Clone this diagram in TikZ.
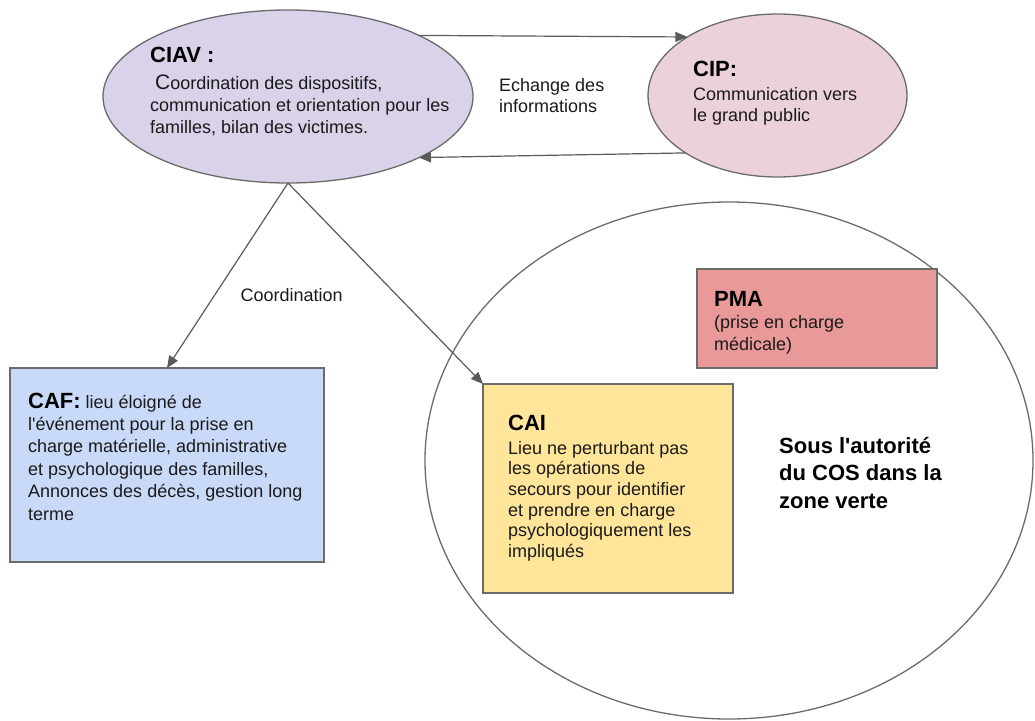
\documentclass[tikz,border=0pt]{standalone}
\usepackage{fontspec}
\setmainfont{Liberation Sans}[Ligatures=TeXOff]
\usetikzlibrary{arrows.meta,shapes.geometric}

\definecolor{lineg}{HTML}{6B6B6B}
\definecolor{arrowg}{HTML}{5A5A5A}
\definecolor{ciavfill}{HTML}{D9D2E9}
\definecolor{cipfill}{HTML}{EAD1DC}
\definecolor{caffill}{HTML}{C9DAF8}
\definecolor{caifill}{HTML}{FFE599}
\definecolor{pmafill}{HTML}{EA9999}
\definecolor{ink}{HTML}{1A1A1A}

% stacked lines whose baseline is the first line
\newcommand\textrows[1]{\begin{tabular}[t]{@{}l@{}}#1\end{tabular}}

\begin{document}
\begin{tikzpicture}[x=1pt,y=-1pt,
  outline/.style={draw=lineg, line width=1.3pt},
  oval/.style={outline, ellipse, inner sep=0pt, outer sep=0pt},
  panel/.style={outline, rectangle, inner sep=0pt, outer sep=0pt, anchor=north west},
  body/.style={inner sep=0pt, anchor=base west, text=ink, font=\fontsize{18}{22.3}\selectfont},
  head/.style={inner sep=0pt, anchor=base west, text=black, font=\fontsize{22}{26}\selectfont\bfseries},
  link/.style={draw=arrowg, line width=1.2pt, -{Triangle[length=12pt,width=10pt]}}]

\useasboundingbox (0,0) rectangle (1035,720);

% green zone
\node[oval, minimum width=608, minimum height=517] (zone) at (729,460.5) {};

% shapes
\node[oval, fill=ciavfill, minimum width=370, minimum height=173] (ciav) at (288,96.5) {};
\node[oval, fill=cipfill, minimum width=259, minimum height=163] (cip) at (777.5,95.5) {};
\node[panel, fill=caffill, minimum width=314, minimum height=194] (caf) at (10,368) {};
\node[panel, fill=caifill, minimum width=250, minimum height=209] (cai) at (483,384) {};
\node[panel, fill=pmafill, minimum width=240, minimum height=99] (pma) at (697,269) {};

% CIAV text
\node[head] (ciavT) at (150,62) {CIAV :};
\node[body] (ciavB) at (150,89) {\textrows{%
  \hspace{5pt}{\fontsize{21}{22}\selectfont C}oordination des dispositifs,\\
  communication et orientation pour les\\
  familles, bilan des victimes.}};

% CIP text
\node[head] (cipT) at (693,76) {CIP:};
\node[body, font=\fontsize{18}{21.5}\selectfont] (cipB) at (693,100) {\textrows{%
  Communication vers\\ le grand public}};

% exchange label
\node[body, font=\fontsize{18}{21}\selectfont] (echange) at (499,91) {\textrows{%
  Echange des\\ informations}};

% coordination label
\node[body] (coordlbl) at (240.5,301.7) {Coordination};

% CAF text
\node[body, font=\fontsize{18}{22.4}\selectfont] (cafB) at (28,408) {\textrows{%
  {\fontsize{22}{22}\selectfont\bfseries\color{black}CAF:} lieu éloigné de\\
  l'événement pour la prise en\\
  charge matérielle, administrative\\
  et psychologique des familles,\\
  Annonces des décès, gestion long\\
  terme}};

% CAI text
\node[head] (caiT) at (508,430) {CAI};
\node[body, font=\fontsize{18}{20.7}\selectfont] (caiB) at (508,454) {\textrows{%
  Lieu ne perturbant pas\\
  les opérations de\\
  secours pour identifier\\
  et prendre en charge\\
  psychologiquement les\\
  impliqués}};

% PMA text
\node[head] (pmaT) at (714,306.7) {PMA};
\node[body, font=\fontsize{18}{22}\selectfont] (pmaB) at (714,328) {\textrows{%
  (prise en charge\\ médicale)}};

% zone caption
\node[head, font=\fontsize{22}{27.5}\selectfont\bfseries] (zoneT) at (779,453.3) {\textrows{%
  Sous l'autorité\\ du COS dans la\\ zone verte}};

% connectors
\draw[link] (ciav.25) -- (cip.147);
\draw[link] (cip.212) -- (ciav.335);
\draw[link] (ciav.south) -- (caf.north);
\draw[link] (ciav.south) -- (cai.north west);

\end{tikzpicture}
\end{document}
